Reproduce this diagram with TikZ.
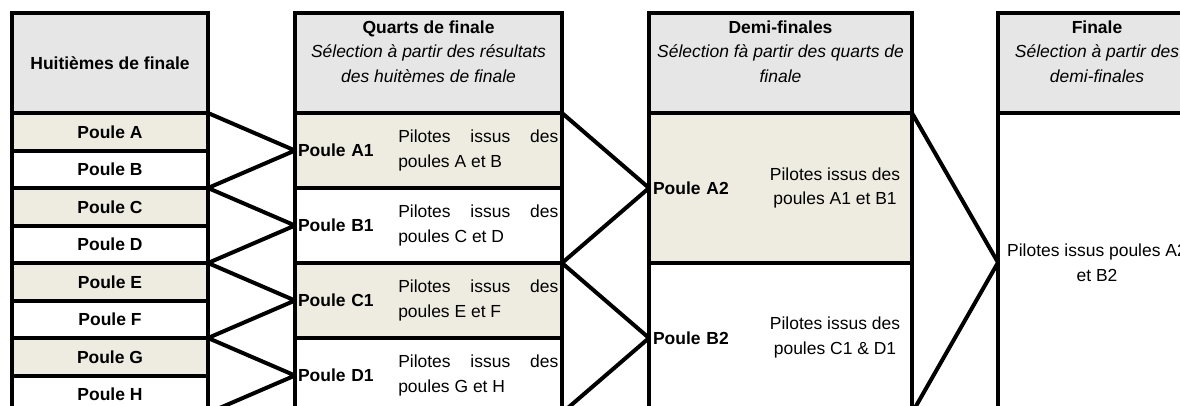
\documentclass[tikz,border=0pt]{standalone}
\usepackage{fontspec}
\setmainfont{Liberation Sans}
\definecolor{headgray}{HTML}{E6E6E6}
\definecolor{pouletan}{HTML}{EEECE1}
\tikzset{
	cell/.style={draw,line width=3pt,outer sep=0pt,inner sep=0pt,anchor=north west},
	headcell/.style={cell,fill=headgray,minimum height=75pt},
	huit/.style={cell,minimum width=147pt,minimum height=28.125pt,font=\bfseries},
	quart/.style={cell,minimum width=200.25pt,minimum height=56.25pt,inner xsep=2.25pt,text width=195.75pt,align=left,font=\bfseries},
	demi/.style={cell,minimum width=197.25pt,minimum height=112.5pt,inner xsep=3pt,text width=191.25pt,align=left,font=\bfseries},
	descr/.style={inner sep=0pt,align=center},
	title/.style={inner sep=0pt,align=center,anchor=north},
	link/.style={line width=3pt,line join=bevel}
}
\begin{document}
\begin{tikzpicture}[x=0.75pt,y=-0.75pt]
\fontsize{13.1}{18.4}\selectfont
\useasboundingbox (0,0) rectangle (1180,405);
\clip (0,0) rectangle (1180,405);
\node[headcell,minimum width=147pt,font=\bfseries] (h8) at (12,13) {Huitièmes de finale};
\node[headcell,minimum width=200.25pt] (hq) at (295,13) {};
\node[headcell,minimum width=197.25pt] (hd) at (649,13) {};
\node[headcell,minimum width=148.5pt] (hf) at (998,13) {};
\node[title] (tq) at (428.5,20.5) {\textbf{Quarts de finale}\\\textit{Sélection à partir des résultats}\\\textit{des huitèmes de finale}};
\node[title] (td) at (780.5,20.5) {\textbf{Demi-finales}\\\textit{Sélection fà partir des quarts de}\\\textit{finale}};
\node[title] (tf) at (1097,20.5) {\textbf{Finale}\\\textit{Sélection à partir des}\\\textit{demi-finales}};
\foreach \p [count=\i from 0] in {A,B,C,D,E,F,G,H}{
	\ifodd\i \def\rowfill{white}\else \def\rowfill{pouletan}\fi
	\node[huit,fill=\rowfill] (p\p) at (12,113+37.5*\i) {Poule \p};}
\foreach \q/\pa/\pb [count=\i from 0] in {A/A/B,B/C/D,C/E/F,D/G/H}{
	\ifodd\i \def\rowfill{white}\else \def\rowfill{pouletan}\fi
	\node[quart,fill=\rowfill] (q\q) at (295,113+75*\i) {Poule \q1};
	\node[descr,anchor=west,align=left] (q\q txt) at (398,150.5+75*\i) {\makebox[120pt][s]{Pilotes issus des}\\poules \pa{} et \pb};}
\node[demi,fill=pouletan] (dA) at (649,113) {Poule A2};
\node[descr] (dAtxt) at (835,188) {Pilotes issus des\\poules A1 et B1};
\node[demi] (dB) at (649,263) {Poule B2};
\node[descr] (dBtxt) at (835,337.5) {Pilotes issus des\\poules C1 \& D1};
\node[cell,minimum width=148.5pt,minimum height=224.25pt,align=center] (fin) at (998,113) {Pilotes issus poules A2\\et B2};
\draw[link] (pA.north east) -- (qA.west) -- (pC.north east) -- (qB.west) -- (pE.north east) -- (qC.west) -- (pG.north east) -- (qD.west) -- (pH.south east);
\draw[link] (qA.north east) -- (dA.west) -- (qC.north east) -- (dB.west) -- (qD.south east);
\draw[link] (dA.north east) -- (fin.west) -- (dB.south east);
\end{tikzpicture}
\end{document}
